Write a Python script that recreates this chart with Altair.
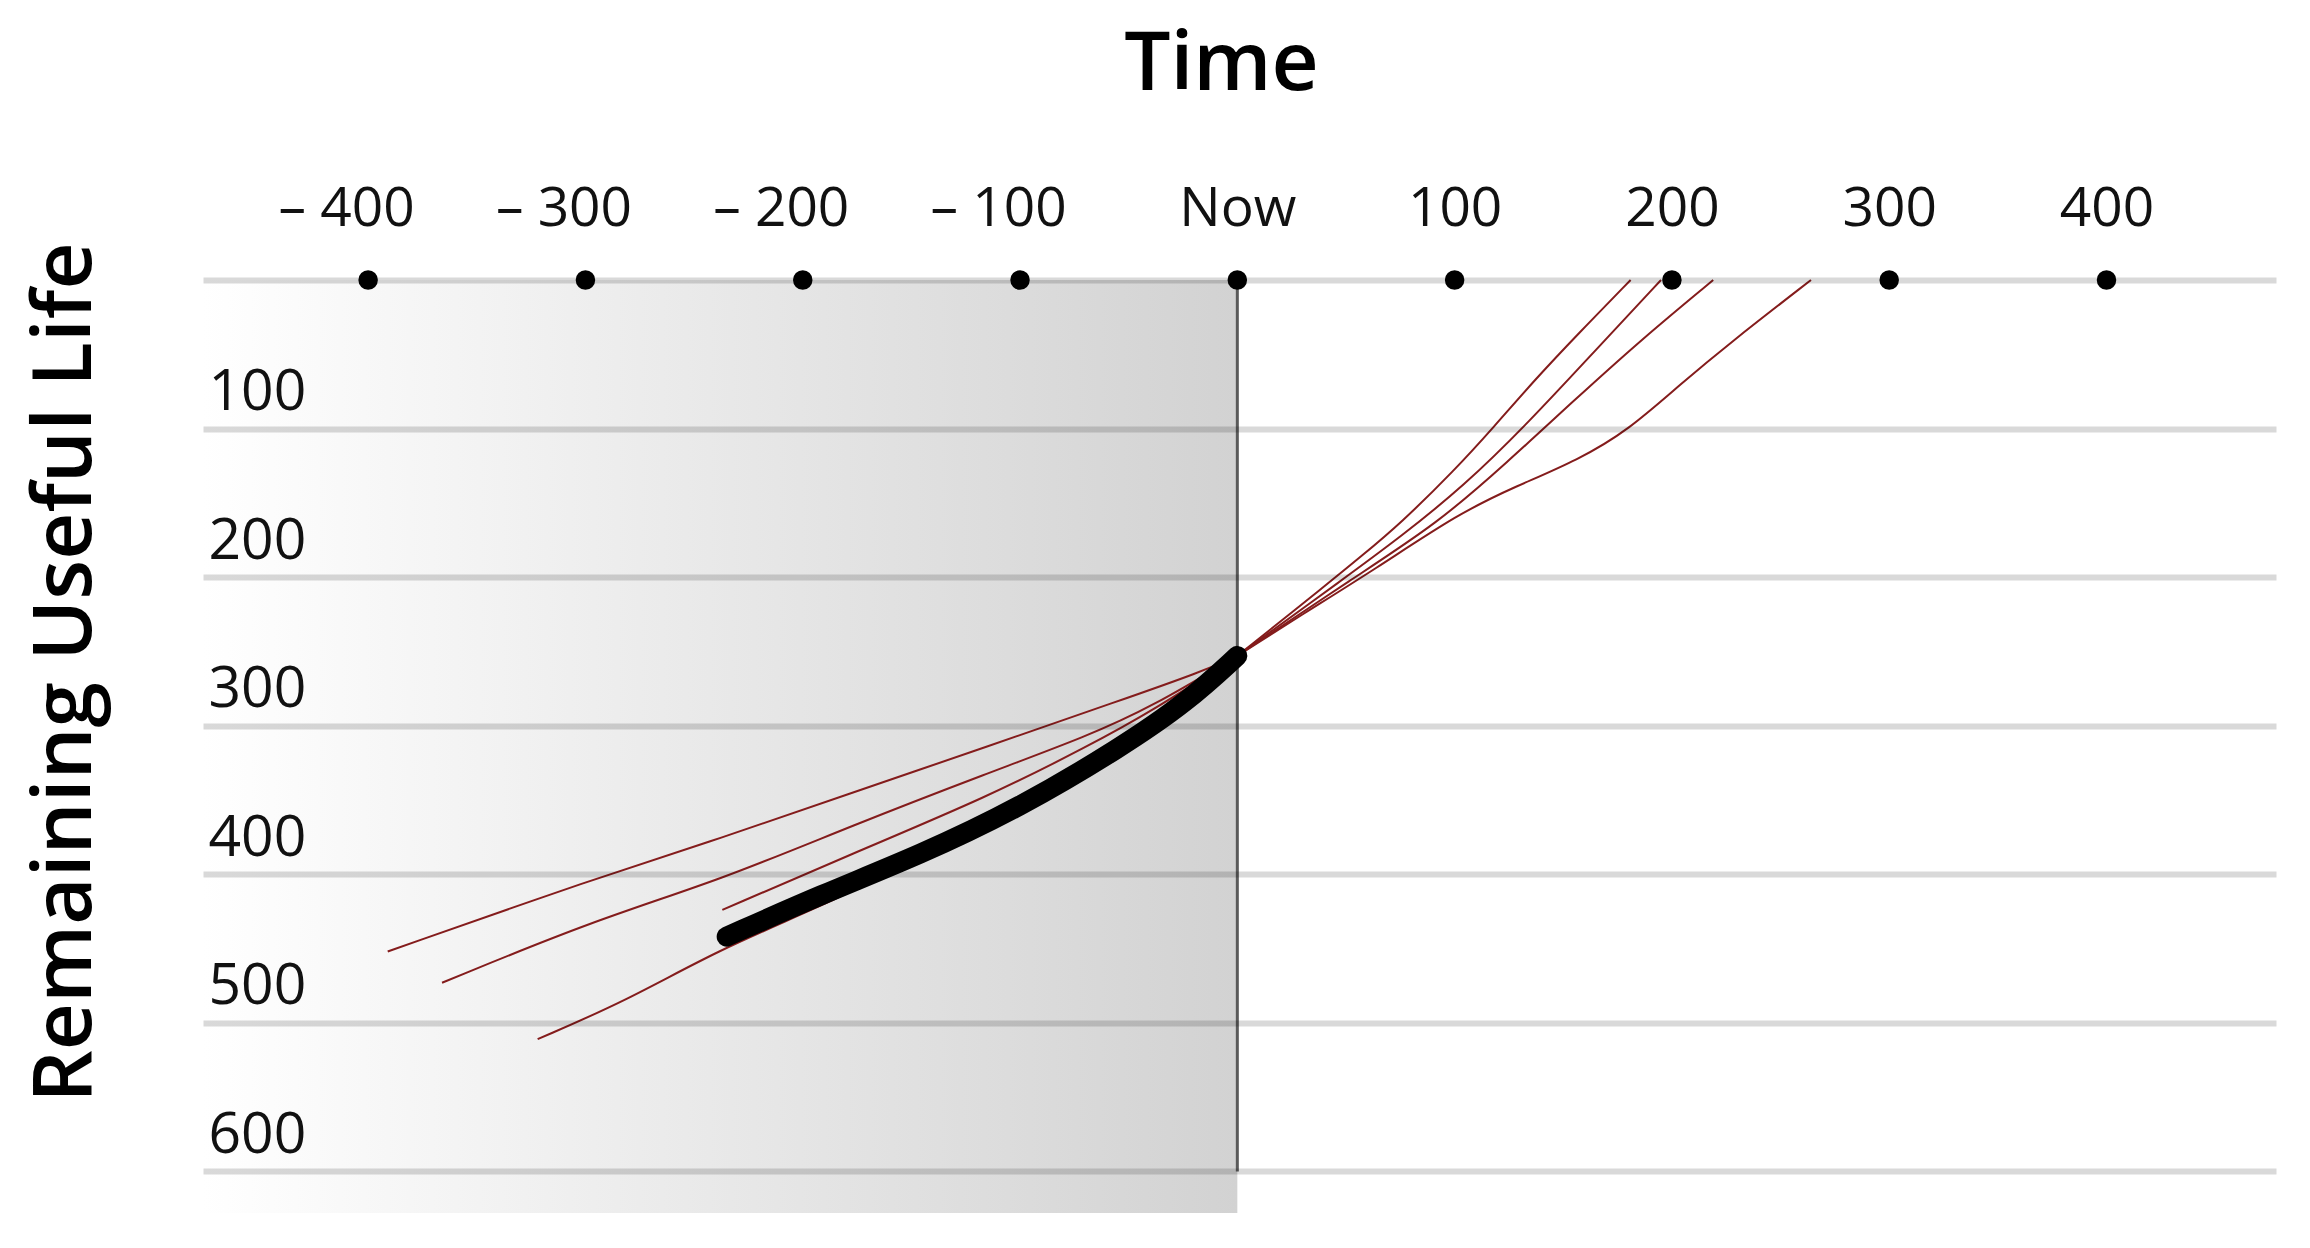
import altair as alt
import pandas as pd

# ---------------- data ----------------
x_ticks = [-400, -300, -200, -100, 0, 100, 200, 300, 400]
y_ticks = [0, 100, 200, 300, 400, 500, 600]

x_domain = [-476, 478]
y_domain = [0, 628]

# shaded "past" window and the "now" marker
past_start = -476
past_end = 0
past_top = 0
past_bottom = 628
now_x = 0
now_line_end = 600

# observed degradation history (thick black)
history_x = [-235, -192, -146, -100, -54, -23, 0]
history_y = [442, 414, 387, 355, 315, 284, 253]

# past trajectories (thin red)
past_A_x = [-391, -296, -238, -177, -115, -54, -17, 0]
past_A_y = [452, 403, 376, 345, 314, 283, 264, 253]
past_B_x = [-366, -296, -238, -177, -115, -69, -39, 0]
past_B_y = [473, 431, 404, 367, 332, 307, 287, 253]
past_C_x = [-237, -177, -115, -69, -39, 0]
past_C_y = [424, 386, 348, 314, 290, 253]
past_D_x = [-322, -281, -239, -192, -150, -115, -85, -54, 0]
past_D_y = [511, 485, 451, 422, 392, 359, 337, 310, 253]

# predicted future trajectories (thin red)
future_E_x = [0, 42, 57, 75, 100, 118, 137, 157, 181]
future_E_y = [253, 204, 186, 164, 128, 99, 67, 36, 0]
future_F_x = [0, 50, 75, 104, 134, 165, 195]
future_F_y = [253, 200, 173, 139, 96, 47, 0]
future_G_x = [0, 54, 92, 124, 155, 186, 219]
future_G_y = [253, 200, 164, 123, 81, 40, 0]
future_H_x = [0, 30, 63, 102, 128, 157, 180, 204, 227, 264]
future_H_y = [253, 225, 195, 157, 139, 121, 101, 70, 42, 0]

# ---------------- tables ----------------
red_series = {
    "A": (past_A_x, past_A_y), "B": (past_B_x, past_B_y),
    "C": (past_C_x, past_C_y), "D": (past_D_x, past_D_y),
    "E": (future_E_x, future_E_y), "F": (future_F_x, future_F_y),
    "G": (future_G_x, future_G_y), "H": (future_H_x, future_H_y),
}
red_rows = []
for name, (xs, ys) in red_series.items():
    for xv, yv in zip(xs, ys):
        red_rows.append({"series": name, "x": xv, "y": yv})
red_df = pd.DataFrame(red_rows)
hist_df = pd.DataFrame({"x": history_x, "y": history_y})
dots_df = pd.DataFrame({"x": x_ticks, "y": [0] * len(x_ticks)})
rect_df = pd.DataFrame({"x": [past_start], "x2": [past_end], "y": [past_top], "y2": [past_bottom]})
rule_df = pd.DataFrame({"x": [now_x], "y": [0], "y2": [now_line_end]})

FONT = "Open Sans"

x_axis = alt.Axis(
    orient="top", values=x_ticks, grid=False, domain=False, ticks=False, tickSize=0,
    labelExpr="datum.value == 0 ? 'Now' : (datum.value < 0 ? '– ' + format(-datum.value, 'd') : format(datum.value, 'd'))",
    labelFont=FONT, labelFontSize=55, labelColor="#111", labelPadding=55,
    labelBaseline="alphabetic",
    labelOffset={"condition": {"test": "datum.value < 0", "value": -22}, "value": 0},
    title="Time", titleFont=FONT, titleFontSize=82, titleFontWeight=600, titleColor="#000",
    titleX=1018, titleY=-191, titleAlign="center", titleBaseline="alphabetic", titleAngle=0,
    labelFlush=False, labelOverlap=False,
)
y_axis = alt.Axis(
    orient="left", values=y_ticks, grid=True, gridColor="black", gridOpacity=0.15, gridWidth=6,
    domain=False, ticks=False, tickSize=0,
    labelExpr="datum.value == 0 ? '' : datum.label",
    labelFont=FONT, labelFontSize=57, labelColor="#111", labelAlign="left",
    labelBaseline="alphabetic", labelPadding=-5, labelOffset=-19,
    title="Remaining Useful Life", titleFont=FONT, titleFontSize=82, titleFontWeight=600,
    titleColor="#000", titleAngle=270, titleX=-113, titleY=392, titleAlign="center",
    titleBaseline="alphabetic", zindex=1, labelFlush=False, labelOverlap=False,
)

x_scale = alt.Scale(domain=x_domain, nice=False, zero=False)
y_scale = alt.Scale(domain=y_domain, nice=False, zero=False, reverse=True)

X = alt.X("x:Q", scale=x_scale, axis=x_axis)
Y = alt.Y("y:Q", scale=y_scale, axis=y_axis)

shade = alt.Chart(rect_df).mark_rect(
    color=alt.Gradient(
        gradient="linear", x1=0, y1=0, x2=1, y2=0,
        stops=[alt.GradientStop(color="#ffffff", offset=0),
               alt.GradientStop(color="#d2d2d2", offset=1)],
    ),
    strokeWidth=0,
).encode(x=X, x2="x2:Q", y=Y, y2="y2:Q")

now_rule = alt.Chart(rule_df).mark_rule(color="#5a5a5a", strokeWidth=3).encode(
    x=X, y=Y, y2="y2:Q"
)

red_lines = alt.Chart(red_df).mark_line(
    color="#841c1c", strokeWidth=2, interpolate="basis"
).encode(x=X, y=Y, detail="series:N")

history = alt.Chart(hist_df).mark_line(
    color="black", strokeWidth=20, strokeCap="round", strokeJoin="round", interpolate="basis"
).encode(x=X, y=Y)

dots = alt.Chart(dots_df).mark_circle(color="black", size=380, opacity=1).encode(x=X, y=Y)

chart = alt.layer(shade, now_rule, red_lines, history, dots).properties(
    width=2073,
    height=933,
    background="white",
    autosize=alt.AutoSizeParams(type="none"),
    padding={"left": 195, "top": 272, "right": 20, "bottom": 20},
).configure_view(stroke="transparent", strokeWidth=0)

chart.save("out.html", embed_options={"renderer": "svg", "actions": False})
